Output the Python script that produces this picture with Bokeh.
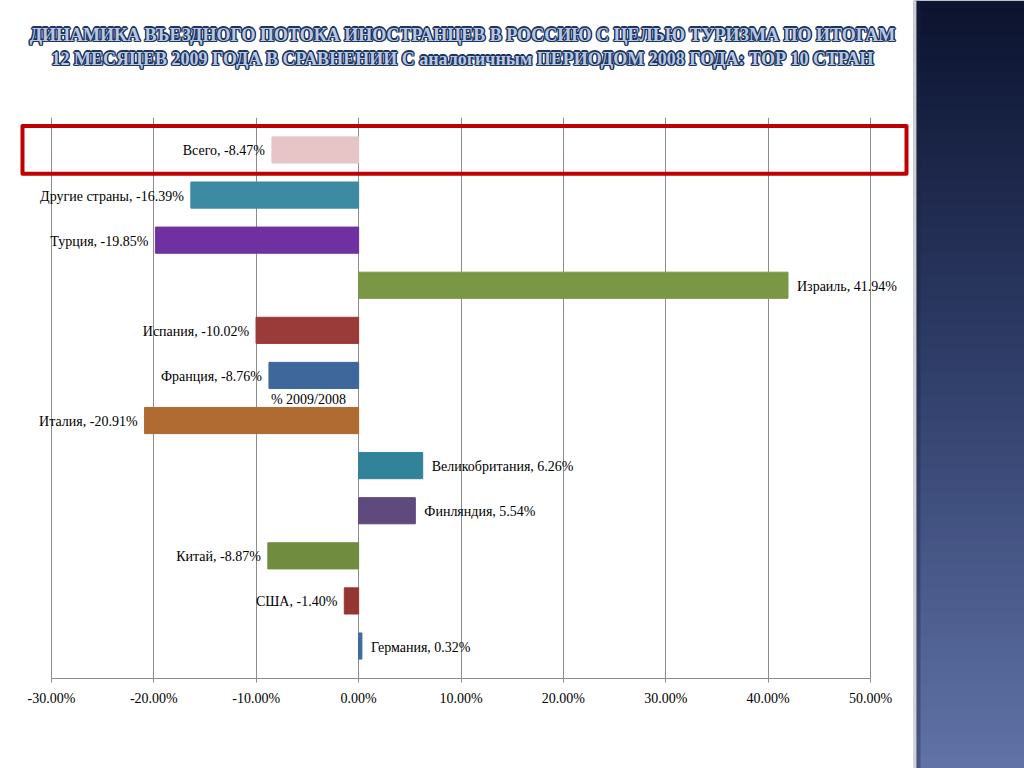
from bokeh.plotting import figure
from bokeh.layouts import row, column
from bokeh.models import (ColumnDataSource, Range1d, FixedTicker, PrintfTickFormatter, Label)
from bokeh.core.properties import value
from bokeh.embed import file_html
from bokeh.resources import INLINE

# ---------------- data ----------------
countries = ["Всего", "Другие страны", "Турция", "Израиль", "Испания", "Франция",
             "Италия", "Великобритания", "Финляндия", "Китай", "США", "Германия"]
change_pct = [-8.47, -16.39, -19.85, 41.94, -10.02, -8.76,
              -20.91, 6.26, 5.54, -8.87, -1.40, 0.32]
bar_colors = ["#e6c5c7", "#3d8aa3", "#7031a0", "#7a9746", "#9a3b39", "#3e679c",
              "#b06b32", "#31839a", "#5e4a7c", "#6f8c3f", "#963634", "#3f6a9e"]
x_ticks = [-30, -20, -10, 0, 10, 20, 30, 40, 50]
series_name = "% 2009/2008"
title_lines = ["ДИНАМИКА ВЪЕЗДНОГО ПОТОКА ИНОСТРАНЦЕВ В РОССИЮ С ЦЕЛЬЮ ТУРИЗМА ПО ИТОГАМ",
               "12 МЕСЯЦЕВ 2009 ГОДА В СРАВНЕНИИ С аналогичным ПЕРИОДОМ 2008 ГОДА: ТОР 10 СТРАН"]

SERIF = "Liberation Serif"
FS = "14px"

# ---------------- sources ----------------
n = len(countries)
ypos = list(range(n))
labels = ["%s, %.2f%%" % (c, v) for c, v in zip(countries, change_pct)]
src = ColumnDataSource(dict(y=ypos, v=change_pct, color=bar_colors, label=labels))
neg = [i for i, v in enumerate(change_pct) if v < 0]
pos = [i for i, v in enumerate(change_pct) if v >= 0]
src_neg = ColumnDataSource(dict(y=[ypos[i] for i in neg], v=[change_pct[i] for i in neg],
                                label=[labels[i] for i in neg]))
src_pos = ColumnDataSource(dict(y=[ypos[i] for i in pos], v=[change_pct[i] for i in pos],
                                label=[labels[i] for i in pos]))

# ---------------- chart ----------------
W = 913
px_per = 819 / 80.0
x0 = x_ticks[0] - 51 / px_per
x1 = x0 + W / px_per

p = figure(width=W, height=651, output_backend="svg", toolbar_location=None,
           x_range=Range1d(x0, x1), y_range=Range1d(n - 1 + 0.72, -0.72),
           y_axis_type=None, min_border_left=0, min_border_right=0,
           min_border_top=0, min_border_bottom=90)
p.outline_line_color = None
p.background_fill_color = "white"
p.border_fill_color = "white"

p.hbar(y="y", left=0, right="v", height=0.58, color="color", source=src)

p.text(x="v", y="y", text="label", source=src_neg, text_align="right",
       text_baseline="middle", x_offset=-7, y_offset=1, text_font=value(SERIF),
       text_font_size=FS, text_color="black")
p.text(x="v", y="y", text="label", source=src_pos, text_align="left",
       text_baseline="middle", x_offset=9, y_offset=1, text_font=value(SERIF),
       text_font_size=FS, text_color="black")

p.add_layout(Label(x=-4.9, y=5.53, text=series_name, text_align="center",
                   text_baseline="middle", text_font=SERIF, text_font_size=FS,
                   text_color="black"))

# highlight box around total row
p.quad(left=[x0 + 22 / px_per], right=[x0 + 906 / px_per], top=[-0.53], bottom=[0.53],
       fill_color=None, line_color="#c00000", line_width=4, line_join="round")

ax = p.xaxis[0]
ax.ticker = FixedTicker(ticks=x_ticks)
ax.formatter = PrintfTickFormatter(format="%.2f%%")
ax.bounds = (x_ticks[0], x_ticks[-1])
ax.axis_line_color = "#8c8c8c"
ax.major_tick_line_color = "#8c8c8c"
ax.major_tick_out = 4
ax.major_tick_in = 0
ax.minor_tick_line_color = None
ax.major_label_text_font = SERIF
ax.major_label_text_font_size = FS
ax.major_label_text_color = "black"
ax.major_label_standoff = 8

p.xgrid.ticker = FixedTicker(ticks=x_ticks)
p.xgrid.grid_line_color = "#8c8c8c"
p.xgrid.grid_line_width = 1
p.ygrid.grid_line_color = None

# ---------------- title ----------------
t = figure(width=W, height=117, output_backend="svg", toolbar_location=None,
           x_range=Range1d(0, W), y_range=Range1d(117, 0),
           x_axis_type=None, y_axis_type=None, min_border=0)
t.outline_line_color = None
t.grid.visible = False
ty = [34, 58]
tx = [462, 462]
TFS = "18px"
for dx, dy in [(-1, -1), (1, -1), (-1, 1), (1, 1), (0, 1.4), (0, -1.4), (1.4, 0), (-1.4, 0)]:
    t.text(x=tx, y=ty, text=title_lines, x_offset=dx, y_offset=dy,
           text_align="center", text_baseline="middle", text_font=value(SERIF),
           text_font_style="bold", text_font_size=TFS, text_color="#1d3560")
t.text(x=tx, y=ty, text=title_lines, text_align="center", text_baseline="middle",
       text_font=value(SERIF), text_font_style="bold", text_font_size=TFS,
       text_color="#b8c8e2")

# ---------------- right panel ----------------
PW = 111
q = figure(width=PW, height=768, output_backend="svg", toolbar_location=None,
           x_range=Range1d(0, PW), y_range=Range1d(768, 0),
           x_axis_type=None, y_axis_type=None, min_border=0)
q.outline_line_color = None
q.grid.visible = False
top_c = (12, 20, 48)
mid_c = (50, 64, 108)
bot_c = (96, 114, 166)
steps = 64
tops, bots, cols = [], [], []
for k in range(steps):
    f = k / (steps - 1)
    if f < 0.5:
        g = f / 0.5
        c = [int(top_c[j] + (mid_c[j] - top_c[j]) * g) for j in range(3)]
    else:
        g = (f - 0.5) / 0.5
        c = [int(mid_c[j] + (bot_c[j] - mid_c[j]) * g) for j in range(3)]
    tops.append(768 * k / steps)
    bots.append(768 * (k + 1) / steps + 0.5)
    cols.append("#%02x%02x%02x" % tuple(c))
q.quad(left=0, right=PW, top=tops, bottom=bots, fill_color=cols, line_color=None)
q.quad(left=[0], right=[3], top=[0], bottom=[768], fill_color="#cdd0d8", line_color=None)
q.quad(left=[3], right=[7], top=[0], bottom=[768], fill_color="#1a2240", fill_alpha=0.35,
       line_color=None)

layout = row(column(t, p, spacing=0), q, spacing=0)
open("out.html", "w").write(file_html(layout, INLINE))
